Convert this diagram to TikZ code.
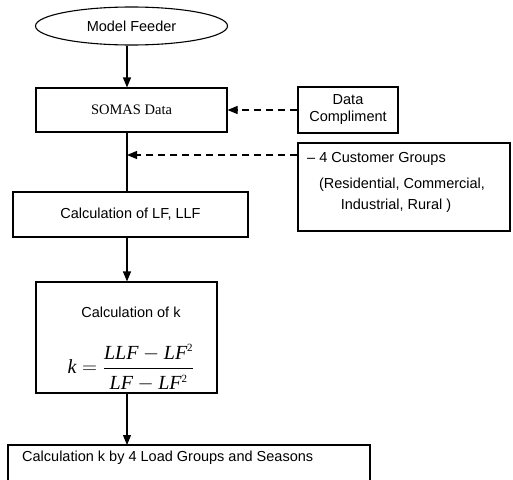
\documentclass[tikz,border=0pt]{standalone}
\usepackage{fontspec}
\setmainfont{Liberation Sans}
\newfontfamily\tms{Liberation Serif}
\usetikzlibrary{shapes.geometric,arrows.meta}
\tikzset{
  base/.style={draw, line width=1.1pt, inner sep=0pt, font=\fontsize{14.5}{17}\selectfont},
  boxnode/.style={base, rectangle},
  txt/.style={inner sep=0pt, font=\fontsize{14.5}{17}\selectfont},
  arr/.style={line width=1.1pt, -{Triangle[length=10pt,width=8pt]}},
  darr/.style={arr, dash pattern=on 7pt off 5pt},
}
\begin{document}
\begin{tikzpicture}[x=1pt,y=-1pt]
\useasboundingbox (0,0) rectangle (513,479);
\coordinate (sp) at (127,0);
\node[base, ellipse, minimum width=192pt, minimum height=38pt] (feeder) at (131.5,26) {Model Feeder};
\node[boxnode, minimum width=191pt, minimum height=44pt, font=\tms\fontsize{14.5}{17}\selectfont] (somas) at (131.5,110) {SOMAS Data};
\node[boxnode, minimum width=100pt, minimum height=46pt, align=center] (dc) at (348,110) {Data\\Compliment};
\node[boxnode, minimum width=212pt, minimum height=88pt] (cg) at (404,187) {};
\node[txt, anchor=west] (cg1) at (307,159) {– 4 Customer Groups};
\node[txt] (cg2) at (402,185) {(Residential, Commercial,};
\node[txt] (cg3) at (396,206) {Industrial, Rural )};
\node[boxnode, minimum width=235pt, minimum height=45pt] (lf) at (130.5,214.5) {Calculation of LF, LLF};
\node[boxnode, minimum width=181pt, minimum height=111pt] (kbox) at (126.5,337.5) {};
\node[txt] (kt) at (131,312) {Calculation of k};
\node[inner sep=0pt, font=\fontsize{20}{23}\selectfont] (kf) at (131,368)
  {$\displaystyle \hbox{\tms\itshape k} = \frac{\hbox{\tms\itshape LLF} - \hbox{\tms\itshape LF}^{\hbox{\tms\fontsize{11}{11}\selectfont 2}}\rule[-6pt]{0pt}{6pt}}{\rule{0pt}{20pt}\hbox{\tms\itshape LF} - \hbox{\tms\itshape LF}^{\hbox{\tms\fontsize{11}{11}\selectfont 2}}}$};
\coordinate (b1) at (8,480);
\coordinate (b2) at (8,445);
\coordinate (b3) at (370,445);
\coordinate (b4) at (370,480);
\draw[line width=1.1pt] (b1) -- (b2) -- (b3) -- (b4);
\node[txt, anchor=west] (bt) at (22,458) {Calculation k by 4 Load Groups and Seasons};
\draw[arr] (sp |- feeder.south) -- (sp |- somas.north);
\draw[line width=1.1pt] (sp |- somas.south) -- (sp |- lf.north);
\draw[arr] (sp |- lf.south) -- (sp |- kbox.north);
\draw[arr] (sp |- kbox.south) -- (sp |- b2);
\draw[darr] (dc.west) -- (somas.east);
\coordinate (cgy) at (0,155);
\draw[darr] (cg.west |- cgy) -- (sp |- cgy);
\end{tikzpicture}
\end{document}
